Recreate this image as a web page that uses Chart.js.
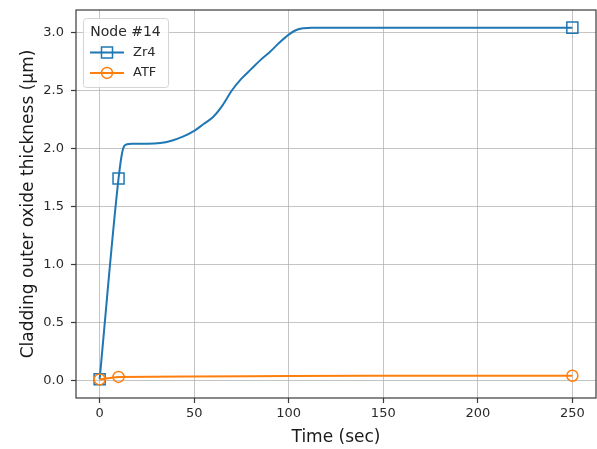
<!DOCTYPE html>
<html><head><meta charset="utf-8">
<script src="https://cdn.jsdelivr.net/npm/chart.js@4"></script>
<style>html,body{margin:0;padding:0;background:#fff}#wrap{width:597px;height:449px}</style>
</head><body><div id="wrap"><canvas id="c" width="597" height="449"></canvas></div>
<script>
// ---- data ----
const legendTitle = 'Node #14';
const xTitle = 'Time (sec)';
const yTitle = 'Cladding outer oxide thickness (μm)';
const xTicks = [0, 50, 100, 150, 200, 250];
const yTicks = [0.0, 0.5, 1.0, 1.5, 2.0, 2.5, 3.0];
const seriesNames = ['Zr4', 'ATF'];

const zr4Time  = [0, 10, 12, 13, 14.5, 17, 25, 32, 38, 44, 50, 55, 60, 65, 70, 75, 80, 85, 90, 95, 100, 104, 108, 112, 118, 250];
const zr4Oxide = [0.01, 1.74, 1.97, 2.02, 2.035, 2.04, 2.04, 2.045, 2.065, 2.10, 2.15, 2.21, 2.27, 2.37, 2.50, 2.60, 2.68, 2.76, 2.83, 2.91, 2.98, 3.02, 3.035, 3.04, 3.04, 3.04];
const zr4Markers = [0, 10, 250];

const atfTime  = [0, 10, 50, 100, 150, 200, 250];
const atfOxide = [0.008, 0.03, 0.033, 0.037, 0.039, 0.04, 0.04];
const atfMarkers = [0, 10, 250];

// ---- styles ----
const BLUE = '#1f77b4', ORANGE = '#ff7f0e';
const FONT = '"DejaVu Sans", "Liberation Sans", sans-serif';
const pts = (xs, ys) => xs.map((x, i) => ({x: x, y: ys[i]}));
const markerRadius = (marks, r) => (ctx) => (ctx.raw && marks.includes(ctx.raw.x)) ? r : 0;

const frameAndLegend = {
  id: 'frameAndLegend',
  afterDraw(chart) {
    const ctx = chart.ctx, a = chart.chartArea;
    ctx.save();
    // axes frame
    ctx.strokeStyle = '#3a3a3a';
    ctx.lineWidth = 1.2;
    ctx.strokeRect(a.left, a.top, a.right - a.left, a.bottom - a.top);
    // legend
    const lx = a.left + 7, ly = a.top + 8, lw = 85, lh = 69;
    ctx.beginPath();
    ctx.roundRect(lx + 0.5, ly + 0.5, lw, lh, 3);
    ctx.fillStyle = 'rgba(255,255,255,0.85)';
    ctx.fill();
    ctx.strokeStyle = '#d4d4d4';
    ctx.lineWidth = 1;
    ctx.stroke();
    ctx.fillStyle = '#2a2a2a';
    ctx.font = '14px ' + FONT;
    ctx.textAlign = 'center';
    ctx.textBaseline = 'middle';
    ctx.fillText(legendTitle, lx + lw / 2, ly + 14);
    chart.data.datasets.forEach((ds, i) => {
      const y = ly + 34.5 + i * 20.4;
      const x0 = lx + 7, x1 = lx + 41, xm = (x0 + x1) / 2;
      ctx.strokeStyle = ds.borderColor;
      ctx.lineWidth = 2;
      ctx.beginPath(); ctx.moveTo(x0, y); ctx.lineTo(x1, y); ctx.stroke();
      ctx.lineWidth = 1.5;
      ctx.beginPath();
      if (ds.pointStyle === 'rect') ctx.rect(xm - 5.5, y - 5.5, 11, 11);
      else ctx.arc(xm, y, 5.5, 0, Math.PI * 2);
      ctx.stroke();
      ctx.fillStyle = '#2a2a2a';
      ctx.font = '13px ' + FONT;
      ctx.textAlign = 'left';
      ctx.fillText(ds.label, lx + 50, y);
    });
    ctx.restore();
  }
};

new Chart(document.getElementById('c'), {
  type: 'line',
  data: {
    datasets: [
      {
        label: seriesNames[0],
        data: pts(zr4Time, zr4Oxide),
        borderColor: BLUE, borderWidth: 2,
        cubicInterpolationMode: 'monotone',
        pointStyle: 'rect',
        pointRadius: markerRadius(zr4Markers, 7.8),
        pointBorderColor: BLUE, pointBorderWidth: 1.5,
        pointBackgroundColor: 'rgba(0,0,0,0)',
        fill: false, order: 2
      },
      {
        label: seriesNames[1],
        data: pts(atfTime, atfOxide),
        borderColor: ORANGE, borderWidth: 2,
        cubicInterpolationMode: 'monotone',
        pointStyle: 'circle',
        pointRadius: markerRadius(atfMarkers, 5.5),
        pointBorderColor: ORANGE, pointBorderWidth: 1.5,
        pointBackgroundColor: 'rgba(0,0,0,0)',
        fill: false, order: 1
      }
    ]
  },
  options: {
    responsive: false, animation: false, devicePixelRatio: 1,
    layout: { autoPadding: false, padding: { left: 0, right: 1, top: 10, bottom: 0 } },
    plugins: { legend: { display: false }, tooltip: { enabled: false } },
    scales: {
      x: {
        type: 'linear', min: -12.5, max: 262.5,
        afterBuildTicks: (s) => { s.ticks = xTicks.map(v => ({value: v})); },
        afterFit: (s) => { s.height = 51; s.paddingLeft = 0; s.paddingRight = 0; },
        grid: { color: 'rgba(176,176,176,0.75)', lineWidth: 1, tickLength: 5, tickColor: '#3a3a3a', tickWidth: 1.2 },
        border: { display: false },
        ticks: { color: '#2a2a2a', font: { family: FONT, size: 13 }, padding: 3, maxRotation: 0,
                 callback: (v) => String(v) },
        title: { display: true, text: xTitle, color: '#1a1a1a', font: { family: FONT, size: 17 }, padding: { top: 0, bottom: 1 } }
      },
      y: {
        type: 'linear', min: -0.152, max: 3.192,
        afterBuildTicks: (s) => { s.ticks = yTicks.map(v => ({value: v})); },
        afterFit: (s) => { s.width = 76; s.paddingTop = 0; s.paddingBottom = 0; },
        grid: { color: 'rgba(176,176,176,0.75)', lineWidth: 1, tickLength: 5, tickColor: '#3a3a3a', tickWidth: 1.2 },
        border: { display: false },
        ticks: { color: '#2a2a2a', font: { family: FONT, size: 13 }, padding: 7,
                 callback: (v) => Number(v).toFixed(1) },
        title: { display: true, text: yTitle, color: '#1a1a1a', font: { family: FONT, size: 17 }, padding: { top: 18, bottom: 0 } }
      }
    }
  },
  plugins: [frameAndLegend]
});
</script>
</body></html>
